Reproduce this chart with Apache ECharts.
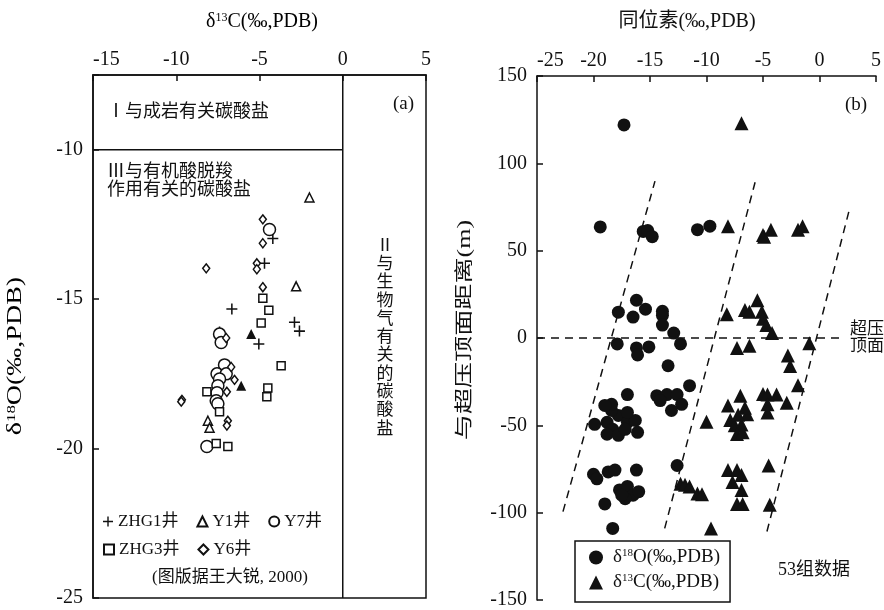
<!DOCTYPE html>
<html><head><meta charset="utf-8">
<script src="https://cdn.jsdelivr.net/npm/echarts@6/dist/echarts.min.js"></script>
<style>html,body{margin:0;padding:0;background:#fff}#c{width:884px;height:610px}</style>
</head><body><div id="c"></div>
<script>
const FONT = '"Liberation Serif","Times New Roman","Noto Sans CJK SC",serif';
const INK = '#111';

// ---------- Panel (a): δ13C vs δ18O ----------
const xRangeA = [-15, 5];
const yRangeA = [-25, -7.5];
const ZHG1 = [[-4.2,-12.97],[-4.7,-13.8],[-6.66,-15.33],[-2.9,-15.77],[-2.6,-16.07],[-5.04,-16.5],[-7.4,-16.1]];
const Y1 = [[-2.0,-11.6],[-2.8,-14.57],[-8.1,-19.07],[-8.0,-19.3]];
const Y1dark = [[-5.5,-16.17],[-6.1,-17.9]];
const Y7 = [[-4.4,-12.67],[-7.4,-16.17],[-7.3,-16.45],[-7.1,-17.2],[-7.55,-17.5],[-7.0,-17.5],[-7.4,-17.67],[-7.5,-17.9],[-7.55,-18.13],[-7.6,-18.4],[-7.5,-18.5],[-8.16,-19.93]];
const ZHG3 = [[-4.8,-14.97],[-4.44,-15.37],[-4.9,-15.8],[-3.7,-17.23],[-4.5,-17.97],[-4.56,-18.27],[-8.16,-18.1],[-7.4,-18.77],[-7.6,-19.83],[-6.9,-19.93]];
const Y6 = [[-4.8,-12.33],[-4.8,-13.13],[-5.16,-13.8],[-5.16,-14.0],[-8.2,-13.97],[-4.8,-14.6],[-7.0,-16.3],[-6.7,-17.27],[-6.5,-17.7],[-6.96,-18.1],[-9.66,-18.37],[-9.7,-18.43],[-6.9,-19.07],[-6.96,-19.23]];
const boundaryH = [[-15,-10],[0,-10]];
const boundaryV = [[0,-25],[0,-7.5]];

// ---------- Panel (b): isotope vs distance to overpressure top ----------
const xRangeB = [-25, 5];
const yRangeB = [-150, 150];
const O18 = [[-17.3,122],
 [-19.4,63.6],[-15.6,61],[-15.2,61.5],[-14.8,58],[-10.8,62],[-9.7,64],
 [-16.2,21.6],[-17.8,14.8],[-16.5,12],[-15.4,16.5],[-13.9,15.3],[-13.9,13],[-13.9,7.4],[-12.9,2.8],[-12.3,-3.4],[-17.9,-3.4],[-16.2,-5.7],[-16.1,-9.7],[-15.1,-5.1],[-13.4,-15.9],[-11.5,-27.3],
 [-19.9,-49.4],[-18.8,-48.3],[-17.8,-44.3],[-18.3,-52.3],[-17,-48.3],[-16.3,-47.2],[-16.1,-54],[-18.8,-55.1],[-17.8,-55.7],[-17.2,-52.3],[-18.4,-41.5],[-17,-42.6],[-18.4,-38],[-17,-32.4],[-19,-38.6],
 [-14.4,-33],[-13.5,-32.4],[-12.6,-32.4],[-12.2,-38],[-13.1,-41.5],[-14.1,-35.8],
 [-12.6,-73],
 [-20,-78],[-19.7,-80.6],[-18.7,-76.7],[-18.1,-75.6],[-16.2,-75.6],[-17.7,-87],[-17,-85],[-16.5,-90],[-16,-88],[-17.2,-92],[-19,-95],[-17.5,-90],
 [-18.3,-109]];
const C13 = [[-6.9,123],
 [-8.1,64],[-5,59],[-4.9,58],[-4.3,62],[-1.9,62],[-1.5,64],
 [-5.5,21.6],[-6.6,16],[-6.2,15],[-5.1,15],[-5,11],[-4.7,7.4],[-4.2,2.8],[-8.2,13.6],[-7.3,-5.7],[-6.2,-4.5],[-0.9,-3],[-2.8,-10],[-2.6,-16],[-1.9,-27],
 [-7,-33],[-8.1,-38.6],[-5,-32],[-4.6,-32.4],[-3.8,-32.4],[-2.9,-37],[-4.6,-38],[-4.6,-42.6],[-6.4,-43.7],[-7.9,-47],[-7.5,-50],[-6.9,-49.5],[-7.3,-55],[-6.8,-54],[-10,-48],[-6.6,-40],[-7.2,-44],
 [-4.5,-73],[-8.1,-75.6],[-7.3,-75.6],[-6.9,-78.5],[-7.7,-82.4],[-6.9,-87],[-7.3,-95],[-6.8,-95],[-4.4,-95.5],[-9.6,-109],
 [-12.3,-83.5],[-11.9,-84],[-11.5,-85],[-10.8,-89],[-10.4,-89.5]];
const trend1 = [[-22.7,-99.4],[-14.56,89.8]];
const trend2 = [[-13.7,-109],[-5.7,89.2]];
const trend3 = [[-4.65,-110.8],[2.7,75]];
const overTop = [[-25,0],[1.8,0]];

const PLUS = 'path://M4.3,0H5.7V4.3H10V5.7H5.7V10H4.3V5.7H0V4.3H4.3Z';
const hollow = {color:'#fff', borderColor:INK, borderWidth:1.5, opacity:1};
const solid = {color:INK, opacity:1};
const richSup = (fs) => ({
  a:{fontSize:fs, fontFamily:FONT, color:INK},
  s:{fontSize:Math.round(fs*0.6), fontFamily:FONT, color:INK, verticalAlign:'top'}
});

function axisCommon(){
  return {
    type:'value',
    axisLine:{show:true, onZero:false, lineStyle:{color:INK, width:1.5}},
    axisTick:{show:true, inside:true, length:6, lineStyle:{color:INK, width:1.5}},
    axisLabel:{color:INK, fontSize:20, fontFamily:FONT},
    splitLine:{show:false}
  };
}
const xA = Object.assign(axisCommon(), {gridIndex:0, position:'top', min:xRangeA[0], max:xRangeA[1], interval:5});
xA.axisLabel = Object.assign({}, xA.axisLabel, {margin:5, alignMinLabel:'left'});
const xB = Object.assign(axisCommon(), {gridIndex:1, position:'top', min:xRangeB[0], max:xRangeB[1], interval:5});
xB.axisLabel = Object.assign({}, xB.axisLabel, {margin:5, alignMinLabel:'left'});
const yA = Object.assign(axisCommon(), {gridIndex:0, min:yRangeA[0], max:yRangeA[1], interval:5});
yA.axisLabel = Object.assign({}, yA.axisLabel, {margin:10, formatter:v => (v % 5 === 0 ? String(v) : '')});
const yB = Object.assign(axisCommon(), {gridIndex:1, min:yRangeB[0], max:yRangeB[1], interval:50});
yB.axisLabel = Object.assign({}, yB.axisLabel, {margin:10});

function seg(data, xi, dashed){
  return {type:'line', xAxisIndex:xi, yAxisIndex:xi, data:data, symbol:'none', silent:true,
    lineStyle:{color:INK, width:1.5, type: dashed ? [8,6] : 'solid'}, z:1};
}
function sc(name, data, xi, symbol, size, style){
  return {name:name, type:'scatter', xAxisIndex:xi, yAxisIndex:xi, data:data, symbol:symbol, symbolSize:size, itemStyle:style, z:3};
}

const legendNames = {d18O:'{a|δ}{s|18}{a|O(‰,PDB)}', d13C:'{a|δ}{s|13}{a|C(‰,PDB)}'};
const legText = {color:INK, fontSize:17, fontFamily:FONT};

function txt(x, y, text, fs, extra){
  return Object.assign({type:'text', x:x, y:y, style:Object.assign({text:text, fill:INK, font:fs+'px '+FONT, align:'left', verticalAlign:'middle'}, (extra||{}).style||{})}, (extra||{}).el||{});
}

const option = {
  animation:false,
  backgroundColor:'#fff',
  grid:[
    {left:93, top:75, width:333, height:523, show:true, borderColor:INK, borderWidth:1.5},
    {left:537, top:76, width:339, height:528}
  ],
  xAxis:[xA, xB],
  yAxis:[yA, yB],
  legend:[
    {data:['ZHG1井','Y1井','Y7井'], left:103, top:513, itemGap:18, itemWidth:10, itemHeight:10, padding:0, textStyle:legText},
    {data:['ZHG3井','Y6井'], left:103, top:541, itemGap:18, itemWidth:10, itemHeight:10, padding:0, textStyle:legText},
    {data:['d18O','d13C'], orient:'vertical', left:575, top:541, itemGap:6, itemWidth:14, itemHeight:14,
     padding:[7,10,10,14], borderColor:INK, borderWidth:1.5, backgroundColor:'#fff',
     formatter: n => legendNames[n],
     textStyle:{color:INK, fontSize:19, fontFamily:FONT, rich:richSup(19), padding:[0,0,0,5]}}
  ],
  series:[
    seg(boundaryH,0,false), seg(boundaryV,0,false),
    sc('ZHG1井', ZHG1, 0, PLUS, 11, solid),
    sc('Y1井', Y1, 0, 'triangle', 9, hollow),
    sc('Y1井', Y1dark, 0, 'triangle', 10, solid),
    sc('Y7井', Y7, 0, 'circle', 12, hollow),
    sc('ZHG3井', ZHG3, 0, 'rect', 8, hollow),
    sc('Y6井', Y6, 0, 'diamond', [7,9], hollow),
    seg(trend1,1,true), seg(trend2,1,true), seg(trend3,1,true), seg(overTop,1,true),
    sc('d18O', O18, 1, 'circle', 13, solid),
    sc('d13C', C13, 1, 'triangle', 14, solid)
  ],
  graphic:[
    {type:'text', x:262, y:22, style:{text:'{a|δ}{s|13}{a|C(‰,PDB)}', rich:richSup(20), align:'center', verticalAlign:'middle'}},
    txt(687, 22, '同位素(‰,PDB)', 20, {style:{align:'center'}}),
    {type:'text', x:16, y:356, rotation:Math.PI/2, scaleX:1.4, style:{text:'{a|δ}{s|18}{a|O(‰,PDB)}', rich:richSup(20), align:'center', verticalAlign:'middle'}},
    txt(465, 330, '与超压顶面距离(m)', 18, {style:{align:'center'}, el:{rotation:Math.PI/2, scaleX:1.45}}),
    txt(107, 112, 'Ⅰ与成岩有关碳酸盐', 18),
    txt(393, 104, '(a)', 19),
    txt(107, 172, 'Ⅲ与有机酸脱羧', 18),
    txt(107, 190, '作用有关的碳酸盐', 18),
    {type:'text', x:385, y:237, style:{text:'Ⅱ\n与\n生\n物\n气\n有\n关\n的\n碳\n酸\n盐', fill:INK, font:'17px '+FONT, align:'center', verticalAlign:'top', lineHeight:18.3}},
    txt(152, 578, '(图版据王大锐, 2000)', 17),
    txt(845, 105, '(b)', 19),
    txt(850, 330, '超压', 17),
    txt(850, 347, '顶面', 17),
    txt(778, 570, '53组数据', 18)
  ]
};
const chart = echarts.init(document.getElementById('c'), null, {renderer:'canvas'});
chart.setOption(option);
</script></body></html>
